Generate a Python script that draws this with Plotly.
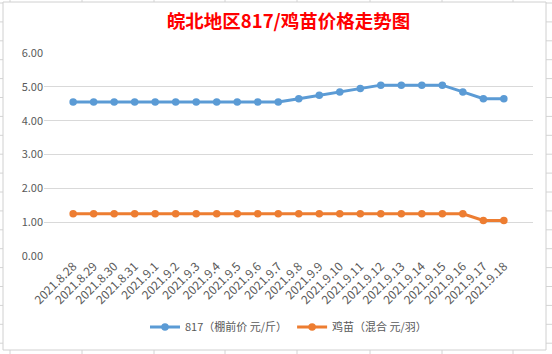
import plotly.graph_objects as go

categories = ["2021.8.28", "2021.8.29", "2021.8.30", "2021.8.31", "2021.9.1", "2021.9.2",
              "2021.9.3", "2021.9.4", "2021.9.5", "2021.9.6", "2021.9.7", "2021.9.8",
              "2021.9.9", "2021.9.10", "2021.9.11", "2021.9.12", "2021.9.13", "2021.9.14",
              "2021.9.15", "2021.9.16", "2021.9.17", "2021.9.18"]
price_817 = [4.55, 4.55, 4.55, 4.55, 4.55, 4.55, 4.55, 4.55, 4.55, 4.55, 4.55,
             4.65, 4.75, 4.85, 4.95, 5.05, 5.05, 5.05, 5.05, 4.85, 4.65, 4.65]
price_chick = [1.25, 1.25, 1.25, 1.25, 1.25, 1.25, 1.25, 1.25, 1.25, 1.25, 1.25,
               1.25, 1.25, 1.25, 1.25, 1.25, 1.25, 1.25, 1.25, 1.25, 1.05, 1.05]
series_names = ["817（棚前价 元/斤）", "鸡苗（混合 元/羽）"]
y_ticks = [0, 1, 2, 3, 4, 5, 6]

W, H = 552, 354
L, R, T, B = 44, 19, 53, 98
PW, PH = W - L - R, H - T - B

def px(x):
    return (x - L) / PW

def py(y):
    return (H - B - y) / PH

FONT = "Noto Sans CJK SC"
GRAY = "#595959"

fig = go.Figure()
fig.add_trace(go.Scatter(x=categories, y=price_817, mode="lines+markers", name=series_names[0],
                         line=dict(color="#5B9BD5", width=3), marker=dict(size=7.5, color="#5B9BD5")))
fig.add_trace(go.Scatter(x=categories, y=price_chick, mode="lines+markers", name=series_names[1],
                         line=dict(color="#ED7D31", width=3), marker=dict(size=7.5, color="#ED7D31")))

shapes = []
# spreadsheet background grid
for gx in [10, 82, 154, 225, 297, 370, 442, 513]:
    shapes.append(dict(type="line", xref="paper", yref="paper", x0=px(gx), x1=px(gx),
                       y0=py(0), y1=py(H), line=dict(color="#D4D4D4", width=1), layer="below"))
gy = 3
while gy < H:
    shapes.append(dict(type="line", xref="paper", yref="paper", x0=px(0), x1=px(W),
                       y0=py(gy), y1=py(gy), line=dict(color="#D4D4D4", width=1), layer="below"))
    gy += 18.9
# chart area
shapes.append(dict(type="rect", xref="paper", yref="paper", x0=px(3), x1=px(546),
                   y0=py(350), y1=py(2), fillcolor="white",
                   line=dict(color="#D0D0D0", width=1), layer="below"))

fig.update_layout(
    width=W, height=H,
    margin=dict(l=L, r=R, t=T, b=B),
    paper_bgcolor="white", plot_bgcolor="rgba(0,0,0,0)",
    font=dict(family=FONT, color=GRAY, size=10),
    title=dict(text="<b>皖北地区817/鸡苗价格走势图</b>", x=0.5, xref="paper", xanchor="center",
               y=1 - 22 / H, yanchor="middle",
               font=dict(family=FONT, size=18.5, color="#FF0000")),
    showlegend=True,
    legend=dict(orientation="h", x=0.5, xanchor="center", y=py(327), yanchor="middle",
                font=dict(family=FONT, size=11, color=GRAY), itemwidth=30,
                bgcolor="rgba(0,0,0,0)"),
    shapes=shapes,
    xaxis=dict(type="category", tickangle=-45, showgrid=False, zeroline=False, showline=False,
               ticks="", tickfont=dict(family=FONT, size=12, color=GRAY), fixedrange=True),
    yaxis=dict(range=[0, 6], tickvals=y_ticks, tickformat=".2f", showgrid=True,
               gridcolor="#D9D9D9", gridwidth=1, zeroline=False, showline=False, ticks="",
               tickfont=dict(family=FONT, size=11, color=GRAY)),
)

fig.write_html("out.html")
